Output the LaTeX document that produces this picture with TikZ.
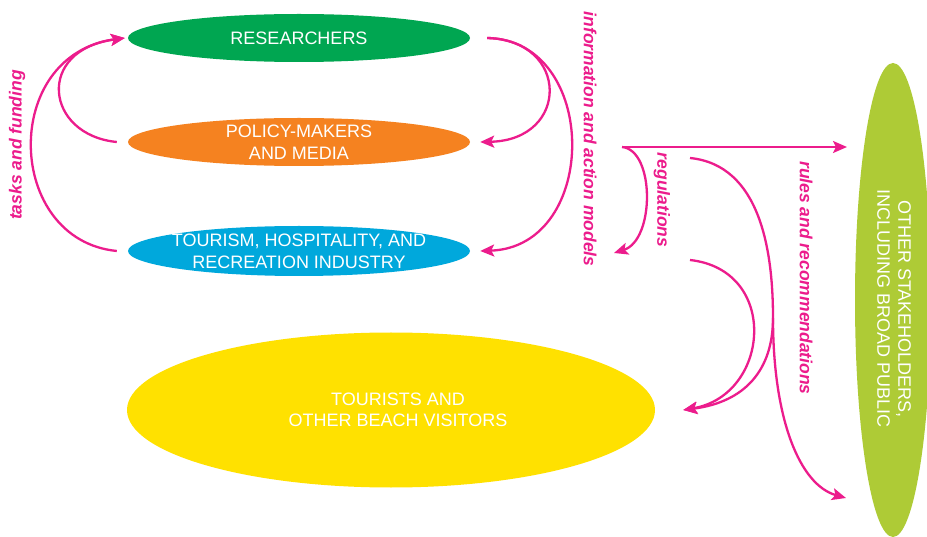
\documentclass[tikz,border=0pt]{standalone}
\usepackage{fontspec}
\setmainfont{Liberation Sans}
\usetikzlibrary{shapes.geometric,arrows.meta}
\definecolor{mag}{HTML}{EC1C8C}
\definecolor{resgreen}{HTML}{00A651}
\definecolor{polorange}{HTML}{F58220}
\definecolor{tourblue}{HTML}{00A8DC}
\definecolor{visyellow}{HTML}{FFE100}
\definecolor{othlime}{HTML}{AECB36}
\begin{document}
\begin{tikzpicture}[x=1pt,y=-1pt,
  blob/.style={ellipse,inner xsep=-80pt,inner ysep=-25pt,text=white,align=center,font=\fontsize{18}{22}\selectfont},
  blobtext/.style={text=white,align=center,inner sep=0pt,font=\fontsize{18}{21}\selectfont},
  flow/.style={draw=mag,line width=2.3pt,-{Stealth[length=14pt,width=12pt,inset=3pt]}},
  lab/.style={text=mag,inner sep=0pt,font=\fontsize{17.5}{20}\selectfont\bfseries\itshape}]
\useasboundingbox (0,0) rectangle (927,537);
\clip (0,0) rectangle (927,537);
\fill[white] (0,0) rectangle (927,537);

% nodes
\node[blob,fill=resgreen,minimum width=342pt,minimum height=48pt] (res) at (299,38) {RESEARCHERS};
\node[blob,fill=polorange,minimum width=342pt,minimum height=48pt] (pol) at (299,142) {POLICY-MAKERS\\AND MEDIA};
\node[blob,fill=tourblue,minimum width=342pt,minimum height=50pt] (tour) at (299,251) {TOURISM, HOSPITALITY, AND\\RECREATION INDUSTRY};
\node[blob,fill=visyellow,minimum width=528pt,minimum height=155pt] (vis) at (391,410) {};
\node[blobtext] (vistext) at (398,410) {TOURISTS AND\\OTHER BEACH VISITORS};
\node[blob,fill=othlime,minimum width=76pt,minimum height=474pt] (oth) at (893,300) {};
\node[blobtext,rotate=-90] (othtext) at (894,309) {OTHER STAKEHOLDERS,\\INCLUDING BROAD PUBLIC};

% free ends
\coordinate (split) at (622,147);
\coordinate (othIn) at (847,147);
\coordinate (regEnd) at (614,253);
\coordinate (rulesStart) at (690,158);
\coordinate (fork) at (773,318);
\coordinate (rulesEnd) at (846,498);
\coordinate (visStart) at (690,260);

% tasks and funding
\draw[flow] ([xshift=-11pt]pol.west) .. controls (45,135) and (35,50) .. ([xshift=-3pt]res.west);
\draw[flow] ([xshift=-11pt]tour.west) .. controls (5,240) and (0,55) .. ([xshift=-3pt]res.west);

% information and action models
\draw[flow] ([xshift=17pt]res.east) .. controls (570,40) and (570,140) .. ([xshift=10pt]pol.east);
\draw[flow] ([xshift=17pt]res.east) .. controls (600,40) and (600,247) .. ([xshift=10pt]tour.east);

% regulations
\draw[flow] (split) -- (othIn);
\draw[flow] (split) .. controls (655,150) and (655,240) .. (regEnd);

% rules and recommendations
\draw[flow] (rulesStart) .. controls (760,165) and (773,250) .. (fork) .. controls (773,420) and (800,485) .. (rulesEnd);
\draw[flow] (fork) .. controls (773,370) and (745,402) .. ([xshift=28pt]vis.east);
\draw[flow] (visStart) .. controls (780,270) and (770,395) .. ([xshift=28pt]vis.east);

% labels
\node[lab,rotate=90] (tf) at (17,145) {tasks and funding};
\node[lab,rotate=-90] (iam) at (590,139) {information and action models};
\node[lab,rotate=-90] (reg) at (662,200) {regulations};
\node[lab,rotate=-90] (rr) at (806,278) {rules and recommendations};
\end{tikzpicture}
\end{document}
